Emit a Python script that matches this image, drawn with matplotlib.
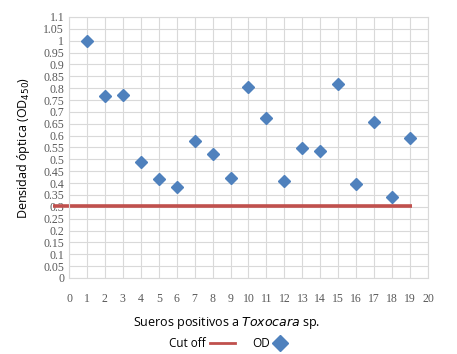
import numpy as np
import matplotlib.pyplot as plt
from matplotlib.lines import Line2D

# Datos
sueros = list(range(1, 20))
od = [1.00, 0.767, 0.77, 0.49, 0.418, 0.385, 0.577, 0.524, 0.423, 0.805,
      0.674, 0.407, 0.549, 0.536, 0.819, 0.397, 0.656, 0.343, 0.591]
cutoff_x = [-0.9, 19.1]
cutoff_y = [0.305, 0.305]

blue = "#4f81bd"
red = "#c0504d"
grid_c = "#d9d9d9"
tick_c = "#595959"

fig = plt.figure(figsize=(4.57, 3.54), dpi=100)
ax = fig.add_axes([0.151, 0.2147, 0.7855, 0.7373])

ax.plot(cutoff_x, cutoff_y, color=red, lw=2.6, solid_capstyle="butt",
        clip_on=False, zorder=2)
ax.plot(sueros, od, linestyle="none", marker="D", markersize=6,
        color=blue, zorder=3)

ax.set_xlim(0, 20)
ax.set_ylim(0, 1.1)
ax.set_xticks(range(0, 21))
yt = np.round(np.arange(0, 1.1001, 0.05), 2)
ax.set_yticks(yt)
ax.set_yticklabels([("%g" % v) for v in yt])
ax.grid(True, color=grid_c, lw=0.8)
ax.set_axisbelow(True)
for s in ax.spines.values():
    s.set_color(grid_c)
    s.set_linewidth(0.8)
ax.tick_params(length=0, colors=tick_c, labelsize=8.5)
ax.tick_params(axis="x", pad=11)
for lab in ax.get_xticklabels() + ax.get_yticklabels():
    lab.set_family("Liberation Serif")

ax.set_ylabel("Densidad óptica (OD$_{450}$)", fontsize=9, family="Open Sans",
              labelpad=8)
fig.text(0.495, 0.088, "Sueros positivos a $\\it{Toxocara}$ sp.", ha="center",
         va="center", fontsize=9, family="Open Sans")

# leyenda manual
fig.text(0.45, 0.031, "Cut off", ha="right", va="center", fontsize=8.5,
         family="Open Sans")
fig.add_artist(Line2D([0.46, 0.514], [0.031, 0.031], color=red, lw=2,
                      transform=fig.transFigure))
fig.text(0.553, 0.031, "OD", ha="left", va="center", fontsize=8.5,
         family="Open Sans")
fig.add_artist(Line2D([0.613], [0.031], marker="D", markersize=8, color=blue,
                      linestyle="none", transform=fig.transFigure))

fig.savefig("out.png", dpi=100)
